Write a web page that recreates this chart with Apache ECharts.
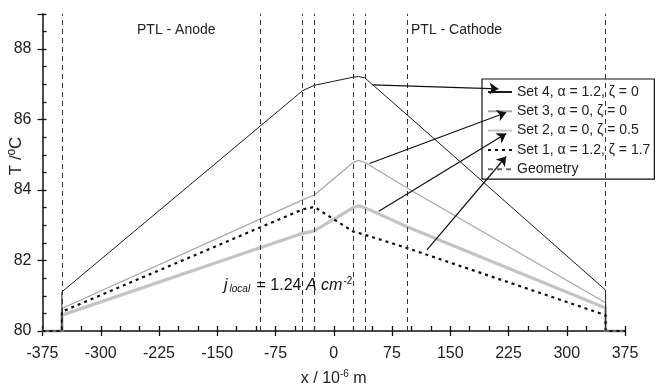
<!DOCTYPE html>
<html>
<head>
<meta charset="utf-8">
<title>T profile</title>
<script src="https://cdn.jsdelivr.net/npm/echarts@6/dist/echarts.min.js"></script>
<style>
  html, body { margin: 0; padding: 0; background: #fff; }
  #chart { width: 656px; height: 386px; }
</style>
</head>
<body>
<div id="chart"></div>
<script>
// x positions (10^-6 m) shared by all sets
var xPts = [-375, -350, -350, -40, -25, 25, 32, 40, 95, 350, 350, 375];
// temperatures (deg C)
var set4 = [80, 80, 81.11, 86.82, 86.97, 87.2, 87.22, 87.18, 86.12, 81.16, 80, 80];
var set3 = [80, 80, 80.64, 83.72, 83.86, 84.78, 84.84, 84.78, 84.05, 80.8, 80, 80];
var set2 = [80, 80, 80.45, 82.77, 82.84, 83.5, 83.55, 83.5, 82.95, 80.65, 80, 80];
var set1 = [80, 80, 80.55, 83.45, 83.52, 82.82, 82.78, 82.73, 82.35, 80.45, 80, 80];

// layer boundaries
var geomX = [-350, -95, -40, -25, 25, 40, 95, 350];

// arrows from curves to legend entries
var arrowFrom = [[50, 86.98], [46, 84.75], [58, 83.4], [120, 82.3]];
var arrowTo = [[212, 86.87], [222, 86.2], [222, 85.6], [222, 84.95]];

var names = ['Set 4, α = 1.2, ζ = 0', 'Set 3, α = 0, ζ = 0', 'Set 2, α = 0, ζ = 0.5', 'Set 1, α = 1.2, ζ = 1.7', 'Geometry'];

function pairs(ys) {
  return xPts.map(function (x, i) { return [x, ys[i]]; });
}

var chart = echarts.init(document.getElementById('chart'));
var font = 'Liberation Sans, Arial, sans-serif';

var option = {
  animation: false,
  textStyle: { fontFamily: font },
  grid: { left: 42.5, right: 31, top: 13.75, bottom: 55, outerBoundsMode: 'none', containLabel: false },
  legend: {
    orient: 'vertical',
    left: 482, top: 79,
    data: names,
    itemWidth: 24, itemHeight: 14, itemGap: 5.3,
    padding: [6, 4, 3, 5],
    backgroundColor: '#fff',
    borderColor: '#111', borderWidth: 1.2,
    itemStyle: { opacity: 0 },
    textStyle: { fontFamily: font, fontSize: 14, color: '#222', lineHeight: 14 },
    selectedMode: false
  },
  xAxis: [{
    type: 'value', min: -375, max: 375, interval: 75,
    name: '{a|x / 10}{s|-6}{a| m}', nameLocation: 'middle', nameGap: 38, nameMoveOverlap: false,
    nameTextStyle: {
      rich: {
        a: { fontFamily: font, fontSize: 16, color: '#222' },
        s: { fontFamily: font, fontSize: 10, color: '#222', padding: [0, 0, 9, 0] }
      }
    },
    axisLine: { onZero: false, lineStyle: { color: '#111', width: 1.5 } },
    axisTick: { length: 5, lineStyle: { color: '#111', width: 1.3 } },
    axisLabel: { fontSize: 16, color: '#222', margin: 15 },
    splitLine: { show: false }
  }, {
    type: 'value', min: -375, max: 375, interval: 25, position: 'bottom',
    axisLine: { show: false, onZero: false },
    axisTick: { inside: true, length: 5, lineStyle: { color: '#111', width: 1.3 } },
    axisLabel: { show: false },
    splitLine: { show: false }
  }],
  yAxis: [{
    type: 'value', min: 80, max: 89, interval: 2,
    axisLine: { onZero: false, lineStyle: { color: '#111', width: 1.5 } },
    axisTick: { length: 5, lineStyle: { color: '#111', width: 1.3 } },
    axisLabel: {
      fontSize: 16, color: '#222', margin: 11,
      formatter: function (v) { return v % 2 === 0 ? v : ''; }
    },
    splitLine: { show: false }
  }, {
    type: 'value', min: 80, max: 89, interval: 0.5, position: 'left',
    axisLine: { show: false, onZero: false },
    axisTick: { inside: true, length: 4, lineStyle: { color: '#111', width: 1.3 } },
    axisLabel: { show: false },
    splitLine: { show: false }
  }],
  series: [{
    name: names[4], type: 'line', data: [],
    lineStyle: { color: '#666', width: 1, type: [5, 4] },
    itemStyle: { color: '#666' },
    symbol: 'none',
    markLine: {
      silent: true, symbol: 'none', label: { show: false },
      lineStyle: { color: '#333', width: 1, type: [5, 4] },
      data: geomX.map(function (x) { return { xAxis: x }; })
    }
  }, {
    name: names[2], type: 'line', data: pairs(set2), symbol: 'none', clip: false,
    itemStyle: { color: '#c4c4c4' },
    lineStyle: { color: '#c4c4c4', width: 3.2 }
  }, {
    name: names[1], type: 'line', data: pairs(set3), symbol: 'none', clip: false,
    itemStyle: { color: '#a6a6a6' },
    lineStyle: { color: '#a6a6a6', width: 1.2 }
  }, {
    name: names[0], type: 'line', data: pairs(set4), symbol: 'none', clip: false,
    itemStyle: { color: '#1a1a1a' },
    lineStyle: { color: '#1a1a1a', width: 1 }
  }, {
    name: names[3], type: 'line', data: pairs(set1), symbol: 'none', clip: false,
    itemStyle: { color: '#111' },
    lineStyle: { color: '#111', width: 2.2, type: [3, 4] }
  }, {
    name: 'arrows', type: 'line', data: [], z: 10,
    markLine: {
      silent: true, z: 10,
      symbol: ['none', 'arrow'], symbolSize: 9,
      label: { show: false },
      lineStyle: { color: '#111', width: 1.2, type: 'solid' },
      data: arrowFrom.map(function (p, i) {
        return [{ coord: p }, { coord: arrowTo[i] }];
      })
    }
  }],
  graphic: [{
    type: 'text', x: 16, y: 156, rotation: Math.PI / 2,
    style: { text: 'T /ºC', font: '17px ' + font, fill: '#222', align: 'center', verticalAlign: 'middle' }
  }, {
    type: 'text', left: 137, top: 23,
    style: { text: 'PTL - Anode', font: '14px ' + font, fill: '#222' }
  }, {
    type: 'text', left: 411, top: 23,
    style: { text: 'PTL - Cathode', font: '14px ' + font, fill: '#222' }
  }, {
    type: 'text', left: 224, top: 276, z: 20,
    style: {
      text: '{i|j}{sub|local}{n| = 1.24 }{i|A cm}{sup|-2}',
      rich: {
        i: { fontFamily: font, fontSize: 16, fontStyle: 'italic', fill: '#111' },
        n: { fontFamily: font, fontSize: 16, fill: '#111' },
        sub: { fontFamily: font, fontSize: 10, fontStyle: 'italic', fill: '#111', padding: [8, 2, 0, 2] },
        sup: { fontFamily: font, fontSize: 10, fill: '#111', padding: [0, 0, 9, 1] }
      }
    }
  }]
};

chart.setOption(option);
window.onresize = function () { chart.resize(); };
</script>
</body>
</html>
